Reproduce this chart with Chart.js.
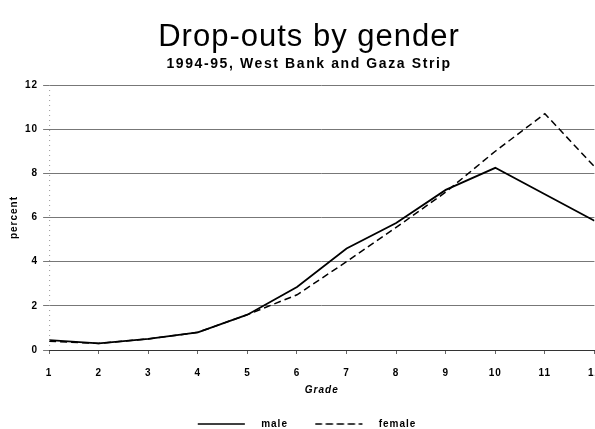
<!DOCTYPE html>
<html>
<head>
<meta charset="utf-8">
<script src="https://cdn.jsdelivr.net/npm/chart.js@4"></script>
<style>
  html, body { margin: 0; padding: 0; background: #fff; overflow: hidden; }
  #wrap { width: 614px; height: 429px; }
</style>
</head>
<body>
<div id="wrap"><canvas id="chart"></canvas></div>
<script>
// grades 1..12, percent dropping out, 1994-95
const grades = [1, 2, 3, 4, 5, 6, 7, 8, 9, 10, 11, 12];
const male   = [0.45, 0.3, 0.5, 0.8, 1.6, 2.85, 4.6, 5.75, 7.25, 8.25, 7.05, 5.85];
const female = [0.4, 0.3, 0.5, 0.8, 1.6, 2.5, 4.0, 5.55, 7.15, 9.0, 10.7, 8.3];
const yTicks = [0, 2, 4, 6, 8, 10, 12];

const FONT = 'Liberation Sans, Arial, sans-serif';
const SUBTITLE = '1994-95, West Bank and Gaza Strip';

// the scanned chart looks a bit stretched sideways, so widen letters
const spacing = {
    id: 'spacing',
    beforeUpdate(chart) { chart.ctx.letterSpacing = '1px'; },
    beforeDraw(chart) { chart.ctx.letterSpacing = '1px'; }
};

// faint dotted line along the value axis
const yAxisLine = {
    id: 'yAxisLine',
    afterDatasetsDraw(chart) {
        const { ctx, chartArea } = chart;
        ctx.save();
        ctx.strokeStyle = '#999';
        ctx.lineWidth = 1;
        ctx.setLineDash([1, 4]);
        ctx.beginPath();
        ctx.moveTo(chartArea.left + 0.5, chartArea.top);
        ctx.lineTo(chartArea.left + 0.5, chartArea.bottom);
        ctx.stroke();
        ctx.restore();
    }
};

function pts(vals) {
    return grades.map((g, i) => ({ x: g, y: vals[i] }));
}

const ctx = document.getElementById('chart').getContext('2d');
const chart = new Chart(ctx, {
    type: 'line',
    data: {
        datasets: [{
            label: 'male',
            data: pts(male),
            borderColor: '#000',
            backgroundColor: '#000',
            borderWidth: 1.8,
            pointRadius: 0,
            tension: 0
        }, {
            label: 'female',
            data: pts(female),
            borderColor: '#000',
            backgroundColor: '#000',
            borderWidth: 1.5,
            borderDash: [7, 4],
            pointRadius: 0,
            tension: 0
        }]
    },
    options: {
        responsive: true,
        maintainAspectRatio: false,
        animation: false,
        // legend sits right at the bottom edge of the page
        layout: { padding: { left: 4, right: 0, top: 0, bottom: -10 } },
        plugins: {
            title: {
                display: true,
                text: 'Drop-outs by gender',
                color: '#000',
                font: { family: FONT, size: 31, weight: 'normal' },
                padding: { top: 19, bottom: 0 }
            },
            subtitle: {
                display: true,
                text: SUBTITLE,
                color: '#000',
                font: { family: FONT, size: 14, weight: 'bold' },
                padding: { bottom: 12 }
            },
            legend: {
                position: 'bottom',
                labels: {
                    color: '#000',
                    font: { family: FONT, size: 10, weight: 'bold' },
                    boxWidth: 47,
                    boxHeight: 0,
                    padding: 1,
                    generateLabels(chart) {
                        const items = Chart.defaults.plugins.legend.labels.generateLabels(chart);
                        items.forEach((it, i) => {
                            it.text = '   ' + it.text + (i === 0 ? '       ' : ' ');
                            it.lineWidth = 1;
                        });
                        return items;
                    }
                }
            },
            tooltip: { enabled: false }
        },
        scales: {
            x: {
                type: 'linear',
                min: 1,
                max: 12,
                ticks: {
                    stepSize: 1,
                    color: '#000',
                    font: { family: FONT, size: 10, weight: 'bold' },
                    padding: 13
                },
                grid: { drawOnChartArea: false, tickLength: 4, color: '#666' },
                border: { color: '#333', width: 1 },
                title: {
                    display: true,
                    text: 'Grade',
                    color: '#000',
                    font: { family: FONT, size: 10, weight: 'bold', style: 'italic' },
                    padding: { top: -8, bottom: 22 }
                }
            },
            y: {
                min: 0,
                max: 12,
                afterBuildTicks(axis) {
                    axis.ticks = yTicks.map(v => ({ value: v }));
                },
                ticks: {
                    color: '#000',
                    font: { family: FONT, size: 10, weight: 'bold' },
                    padding: 5
                },
                grid: { color: '#777', lineWidth: 1, tickLength: 6 },
                border: { display: false },
                title: {
                    display: true,
                    text: 'percent',
                    color: '#000',
                    font: { family: FONT, size: 10, weight: 'bold' },
                    padding: { top: 4, bottom: 0 }
                }
            }
        }
    },
    plugins: [spacing, yAxisLine]
});

// the subtitle is spaced out wider than the rest of the text
const subBox = chart.boxes.find(b => b.options && b.options.text === SUBTITLE);
if (subBox) {
    const origDraw = subBox.draw;
    subBox.draw = function () {
        chart.ctx.letterSpacing = '1.6px';
        origDraw.apply(this, arguments);
        chart.ctx.letterSpacing = '1px';
    };
    chart.draw();
}
</script>
</body>
</html>
